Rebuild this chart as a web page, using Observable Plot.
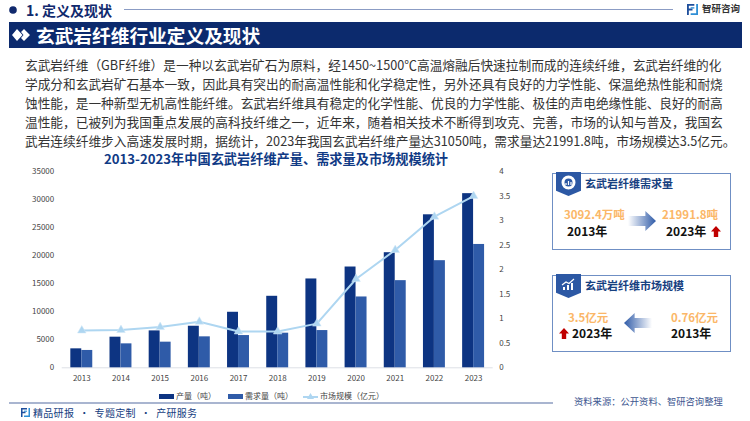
<!DOCTYPE html>
<html lang="zh"><head><meta charset="utf-8">
<script src="https://cdn.jsdelivr.net/npm/d3@7"></script>
<script src="https://cdn.jsdelivr.net/npm/@observablehq/plot@0.6"></script>
<style>
html,body{margin:0;padding:0;background:#fff;}
body{width:750px;height:421px;position:relative;overflow:hidden;font-family:"Noto Sans CJK SC","Noto Sans",sans-serif;}
.a{position:absolute;white-space:nowrap;line-height:1;}
.line{position:absolute;white-space:nowrap;left:25px;font-size:12.7px;line-height:14px;height:14px;color:#333;}
.card{position:absolute;left:552px;width:177px;border:1px solid #6f8fc4;box-sizing:content-box;}
.badge{position:absolute;left:556px;width:25px;height:24px;background:#2c58a4;clip-path:polygon(0 0,100% 0,100% 78%,50% 100%,0 78%);}
.ct{font-weight:700;font-size:11px;color:#17407f;}
.v{font-weight:700;font-size:11.5px;color:#fbb768;}
.y{font-weight:700;font-size:12px;color:#111;}
.arrow{position:absolute;width:28px;height:20px;clip-path:polygon(0 25%,62% 25%,62% 0,100% 50%,62% 100%,62% 75%,0 75%);}
.up{position:absolute;width:10px;height:11px;background:#c00000;clip-path:polygon(50% 0,100% 50%,72% 50%,72% 100%,28% 100%,28% 50%,0 50%);}
.sw{position:absolute;height:5px;width:15px;top:394px;}
.lg{font-size:8px;color:#444;top:392px;}
</style></head><body>
<div id="page"></div>
<div id="chart" style="position:absolute;left:0;top:160px;"></div>
<script>
const years = ["2013","2014","2015","2016","2017","2018","2019","2020","2021","2022","2023"];
const production = [3380,5460,6580,7410,9900,12750,15840,17970,20520,27280,31050];
const demand = [3092.4,4270,4570,5520,5750,6170,6640,12630,15540,19100,21991.8];
const marketSize = [0.76,0.77,0.83,0.94,0.74,0.74,0.9,1.81,2.4,3.08,3.5];
const leftTicks = [0,5000,10000,15000,20000,25000,30000,35000];
const rightTicks = [0,0.5,1,1.5,2,2.5,3,3.5,4];
const chartTitle = "2013-2023年中国玄武岩纤维产量、需求量及市场规模统计";
const bodyLines = [
 "玄武岩纤维（GBF纤维）是一种以玄武岩矿石为原料，经1450~1500℃高温熔融后快速拉制而成的连续纤维，玄武岩纤维的化",
 "学成分和玄武岩矿石基本一致，因此具有突出的耐高温性能和化学稳定性，另外还具有良好的力学性能、保温绝热性能和耐烧",
 "蚀性能，是一种新型无机高性能纤维。玄武岩纤维具有稳定的化学性能、优良的力学性能、极佳的声电绝缘性能、良好的耐高",
 "温性能，已被列为我国重点发展的高科技纤维之一，近年来，随着相关技术不断得到攻克、完善，市场的认知与普及，我国玄",
 "武岩连续纤维步入高速发展时期，据统计，2023年我国玄武岩纤维产量达31050吨，需求量达21991.8吨，市场规模达3.5亿元。"
];
const C = {prod:"#0d3482", dem:"#2f5ba8", line:"#aed6f1"};
const k = 35000/4;
const rows = years.map((y,i)=>({y,production:production[i],demand:demand[i],size:marketSize[i]*k}));

const fontFamily = '"Noto Sans CJK SC","Noto Sans",sans-serif';
const plot = Plot.plot({
  width:530,height:232,marginLeft:61.7,marginRight:37.3,marginTop:11,marginBottom:24.7,
  style:{background:"transparent",fontFamily,fontSize:"8px",color:"#444"},
  x:{type:"band",domain:years,paddingInner:0.44,paddingOuter:0.22,align:0.5,round:false,axis:null},
  y:{domain:[0,35000],axis:null},
  marks:[
    Plot.ruleY([0],{stroke:"#dde0e6",strokeWidth:1}),
    Plot.barY(rows,{x:"y",y:"production",fill:C.prod,insetRight:11}),
    Plot.barY(rows,{x:"y",y:"demand",fill:C.dem,insetLeft:11}),
    Plot.line(rows,{x:"y",y:"size",stroke:C.line,strokeWidth:2}),
    Plot.dot(rows,{x:"y",y:"size",symbol:"triangle",r:3.2,fill:C.line,stroke:"#d4e9f7",strokeWidth:0.5}),
    Plot.axisX({domain:years,tickSize:0,tickPadding:8,fontSize:8,label:null,fill:"#444"}),
    Plot.axisY(leftTicks,{anchor:"left",tickSize:0,tickPadding:8,fontSize:8,label:null,tickFormat:d=>String(d),fill:"#444"}),
    Plot.axisY(rightTicks.map(d=>d*k),{anchor:"right",tickSize:0,tickPadding:6,fontSize:8,label:null,tickFormat:d=>String(d/k),fill:"#444"})
  ]
});
document.getElementById("chart").appendChild(plot);

const logo = (x,y,s)=>`<svg class="a" style="left:${x}px;top:${y}px" width="${s}" height="${s}" viewBox="0 0 12 12"><path d="M0 0H8V2H2V5H6V7H2V12H0Z" fill="#1f4f9c"/><path d="M10 0H12V12H4V10H10Z" fill="#2f8fd6"/><path d="M4 3.5H8V5H4Z" fill="#2f8fd6"/></svg>`;
document.getElementById("page").innerHTML = `
<svg class="a" style="left:9px;top:6px" width="8" height="8"><circle cx="4" cy="4" r="3.8" fill="#10296d"/></svg>
<div class="a" style="left:26px;top:3px;font-size:14px;font-weight:700;color:#10296d">1. 定义及现状</div>
<div class="a" style="left:124px;top:9px;width:549px;height:1px;background:#8b9cc4"></div>
${logo(687,4,11)}
<div class="a" style="left:702px;top:4px;font-size:9.5px;font-weight:700;color:#333;font-family:'Noto Sans CJK SC'">智研咨询</div>
<div class="a" style="left:9px;top:22px;width:733px;height:26px;background:#0c2a6d"></div>
<svg class="a" style="left:12px;top:29px" width="18" height="12"><path d="M5 0L10.5 6L5 12L0 6Z M12 0L18 6L12 12L9 9L11.5 6L9 3Z" fill="#fff"/></svg>
<div class="a" style="left:36px;top:26px;font-size:18.7px;font-weight:700;color:#fff">玄武岩纤维行业定义及现状</div>
${bodyLines.map((t,i)=>`<div class="line" style="top:${58+i*19}px">${t}</div>`).join("")}
<div class="a" style="left:104px;top:152px;font-size:13.2px;font-weight:700;color:#103a85">${chartTitle}</div>

<div class="sw" style="left:159px;background:${C.prod}"></div><div class="a lg" style="left:176px">产量（吨）</div>
<div class="sw" style="left:227.5px;background:${C.dem}"></div><div class="a lg" style="left:245px">需求量（吨）</div>
<div class="a" style="left:303px;top:395.5px;width:15px;height:2px;background:${C.line}"></div>
<svg class="a" style="left:307px;top:392.5px" width="7" height="7"><path d="M3.5 0L7 6H0Z" fill="${C.line}"/></svg>
<div class="a lg" style="left:320px">市场规模（亿元）</div>

<div class="a" style="left:9px;top:402px;width:544px;height:2px;background:#a9b5d0"></div>
${logo(21,408,9)}
<div class="a" style="left:33px;top:408px;font-size:10px;color:#17407f;word-spacing:2.5px;letter-spacing:0.3px">精品研报 · 专题定制 · 产研服务</div>
<div class="a" style="left:574px;top:397px;font-size:9.3px;color:#3d5690">资料来源：公开资料、智研咨询整理</div>

<div class="card" style="top:173px;height:75px"></div>
<div class="badge" style="top:172px"></div>
<svg class="a" style="left:561px;top:175px" width="15" height="15"><circle cx="7.5" cy="7.5" r="5.5" fill="none" stroke="#fff" stroke-width="3"/><path d="M5 10V8M7.5 10V6M10 10V7" stroke="#fff" stroke-width="1.2"/></svg>
<div class="a ct" style="left:585px;top:178px">玄武岩纤维需求量</div>
<div class="a v" style="left:564px;top:209px">3092.4万吨</div>
<div class="a y" style="left:567px;top:225px">2013年</div>
<div class="arrow" style="left:628px;top:211px;background:linear-gradient(90deg,#fff,#2f5ba8)"></div>
<div class="a v" style="left:662px;top:209px">21991.8吨</div>
<div class="a y" style="left:666px;top:225px">2023年</div>
<div class="up" style="left:711px;top:226px"></div>

<div class="card" style="top:275px;height:75px"></div>
<div class="badge" style="top:274px"></div>
<svg class="a" style="left:561px;top:278px" width="15" height="14"><path d="M2 12V9H4V12ZM6 12V7H8V12ZM10 12V5H12V12Z" fill="#fff"/><path d="M1 7L5 4L8 5.5L13 1" fill="none" stroke="#fff" stroke-width="1.2"/></svg>
<div class="a ct" style="left:585px;top:280px">玄武岩纤维市场规模</div>
<div class="a v" style="left:568px;top:312px">3.5亿元</div>
<div class="up" style="left:559px;top:328px"></div>
<div class="a y" style="left:572px;top:327px">2023年</div>
<div class="arrow" style="left:624px;top:313px;transform:scaleX(-1);background:linear-gradient(90deg,#fff,#2f5ba8)"></div>
<div class="a v" style="left:671px;top:312px">0.76亿元</div>
<div class="a y" style="left:671px;top:327px">2013年</div>
`;
</script>
</body></html>
